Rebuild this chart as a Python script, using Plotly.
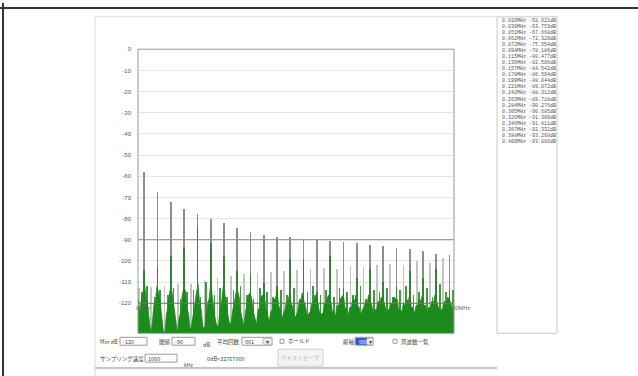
import plotly.graph_objects as go

# ---------------- data ----------------
list_freq = ["0.010", "0.030", "0.051", "0.062", "0.072", "0.094", "0.115", "0.136", "0.157", "0.178",
             "0.199", "0.221", "0.242", "0.263", "0.284", "0.305", "0.326", "0.346", "0.367", "0.388", "0.409"]
list_db = ["-58.621", "-63.753", "-67.668", "-72.329", "-75.554", "-78.186", "-80.477", "-82.506", "-84.542",
           "-86.504", "-88.044", "-89.072", "-88.312", "-89.718", "-90.276", "-90.685", "-91.300", "-91.811",
           "-92.332", "-93.260", "-93.886"]

peak_f = [0.010, 0.031, 0.052, 0.073, 0.094, 0.115, 0.136, 0.157, 0.178, 0.199, 0.220, 0.241,
          0.262, 0.283, 0.304, 0.325, 0.346, 0.367, 0.388, 0.409, 0.430, 0.451, 0.472, 0.493]
peak_hold = [-58.0, -67.6, -72.2, -75.4, -78.1, -80.2, -82.3, -84.4, -86.3, -88.0, -89.0, -88.6,
             -89.8, -90.2, -90.6, -91.3, -91.8, -92.4, -93.2, -93.8, -94.4, -95.6, -96.8, -97.5]
peak_now = [-104.2, -103.0, -98.0, -94.0, -83.6, -91.8, -98.0, -105.0, -106.5, -110.7, -112.0, -99.0,
            -99.0, -115.0, -97.6, -113.0, -108.0, -103.7, -110.0, -112.0, -105.0, -108.0, -104.0, -114.0]

spur_f = [0.002, 0.021, 0.042, 0.063, 0.084, 0.105, 0.126, 0.147, 0.168, 0.189, 0.210, 0.231,
          0.252, 0.273, 0.294, 0.315, 0.336, 0.357, 0.378, 0.399, 0.420, 0.441, 0.462, 0.483]
spur_db = [-113.0, -112.4, -112.0, -111.2, -111.0, -109.0, -108.0, -107.4, -106.5, -106.0, -105.5, -105.0,
           -104.5, -104.0, -103.5, -104.0, -102.5, -103.0, -102.0, -101.5, -102.0, -100.0, -101.0, -98.5]

spike_f = [0.006, 0.014, 0.026, 0.035, 0.047, 0.056, 0.067, 0.078, 0.088, 0.099, 0.108, 0.121, 0.130,
           0.141, 0.151, 0.162, 0.172, 0.183, 0.193, 0.204, 0.214, 0.226, 0.236, 0.247, 0.256, 0.268,
           0.277, 0.289, 0.298, 0.310, 0.319, 0.331, 0.340, 0.352, 0.361, 0.373, 0.382, 0.394, 0.403,
           0.415, 0.424, 0.436, 0.445, 0.457, 0.466, 0.478, 0.487, 0.498]
spike_db = [-115, -112, -117, -114, -116, -113, -118, -115, -114, -117, -110, -116, -113, -117, -114, -112,
            -116, -118, -113, -115, -117, -114, -116, -113, -118, -115, -112, -116, -114, -117, -113, -115,
            -116, -112, -118, -114, -115, -113, -117, -114, -112, -116, -115, -113, -117, -111, -115, -114]

noise_f = [0.0000, 0.0025, 0.0050, 0.0075, 0.0100, 0.0125, 0.0150, 0.0175, 0.0200, 0.0225, 0.0250, 0.0275,
           0.0300, 0.0325, 0.0350, 0.0375, 0.0400, 0.0425, 0.0450, 0.0475, 0.0500, 0.0525, 0.0550, 0.0575,
           0.0600, 0.0625, 0.0650, 0.0675, 0.0700, 0.0725, 0.0750, 0.0775, 0.0800, 0.0825, 0.0850, 0.0875,
           0.0900, 0.0925, 0.0950, 0.0975, 0.1000, 0.1025, 0.1050, 0.1075, 0.1100, 0.1125, 0.1150, 0.1175,
           0.1200, 0.1225, 0.1250, 0.1275, 0.1300, 0.1325, 0.1350, 0.1375, 0.1400, 0.1425, 0.1450, 0.1475,
           0.1500, 0.1525, 0.1550, 0.1575, 0.1600, 0.1625, 0.1650, 0.1675, 0.1700, 0.1725, 0.1750, 0.1775,
           0.1800, 0.1825, 0.1850, 0.1875, 0.1900, 0.1925, 0.1950, 0.1975, 0.2000, 0.2025, 0.2050, 0.2075,
           0.2100, 0.2125, 0.2150, 0.2175, 0.2200, 0.2225, 0.2250, 0.2275, 0.2300, 0.2325, 0.2350, 0.2375,
           0.2400, 0.2425, 0.2450, 0.2475, 0.2500, 0.2525, 0.2550, 0.2575, 0.2600, 0.2625, 0.2650, 0.2675,
           0.2700, 0.2725, 0.2750, 0.2775, 0.2800, 0.2825, 0.2850, 0.2875, 0.2900, 0.2925, 0.2950, 0.2975,
           0.3000, 0.3025, 0.3050, 0.3075, 0.3100, 0.3125, 0.3150, 0.3175, 0.3200, 0.3225, 0.3250, 0.3275,
           0.3300, 0.3325, 0.3350, 0.3375, 0.3400, 0.3425, 0.3450, 0.3475, 0.3500, 0.3525, 0.3550, 0.3575,
           0.3600, 0.3625, 0.3650, 0.3675, 0.3700, 0.3725, 0.3750, 0.3775, 0.3800, 0.3825, 0.3850, 0.3875,
           0.3900, 0.3925, 0.3950, 0.3975, 0.4000, 0.4025, 0.4050, 0.4075, 0.4100, 0.4125, 0.4150, 0.4175,
           0.4200, 0.4225, 0.4250, 0.4275, 0.4300, 0.4325, 0.4350, 0.4375, 0.4400, 0.4425, 0.4450, 0.4475,
           0.4500, 0.4525, 0.4550, 0.4575, 0.4600, 0.4625, 0.4650, 0.4675, 0.4700, 0.4725, 0.4750, 0.4775,
           0.4800, 0.4825, 0.4850, 0.4875, 0.4900, 0.4925, 0.4950, 0.4975, 0.5000]
noise_db = [-118, -125, -119, -116, -110, -117, -120, -128, -134, -130, -121, -119, -112, -115, -119, -126,
            -133, -134, -125, -122, -115, -112, -117, -124, -128, -134, -127, -124, -116, -113, -114, -122,
            -125, -133, -130, -125, -118, -115, -111, -120, -123, -131, -132, -128, -120, -118, -111, -117,
            -121, -128, -131, -130, -122, -119, -112, -116, -120, -126, -130, -129, -123, -120, -115, -114,
            -117, -124, -128, -131, -124, -121, -116, -115, -118, -124, -127, -130, -123, -122, -117, -116,
            -116, -123, -125, -129, -124, -123, -118, -118, -114, -121, -123, -128, -125, -123, -119, -119,
            -115, -120, -122, -127, -126, -124, -119, -119, -115, -119, -121, -126, -125, -124, -120, -120,
            -116, -117, -120, -125, -125, -125, -120, -120, -117, -116, -119, -124, -124, -126, -121, -121,
            -118, -117, -116, -122, -123, -126, -122, -122, -118, -119, -116, -121, -122, -126, -123, -122,
            -119, -120, -116, -119, -121, -125, -123, -123, -119, -120, -117, -118, -120, -124, -123, -123,
            -120, -120, -117, -118, -118, -123, -123, -124, -120, -121, -118, -119, -116, -122, -122, -125,
            -121, -121, -118, -119, -116, -121, -121, -125, -122, -122, -119, -120, -116, -119, -121, -124,
            -123, -122, -119, -120, -117, -118, -120, -124, -124]

y_ticks = [0, -10, -20, -30, -40, -50, -60, -70, -80, -90, -100, -110, -120]
y_min, y_max = -134.2, 0
threshold = -90
min_db = -120

# ---------------- figure ----------------
W, H = 638, 376
px = lambda v: v / W
py = lambda v: 1 - v / H

fig = go.Figure()
base = [y_min] * len(noise_f)
fig.add_trace(go.Scatter(x=noise_f, y=base, mode="lines", line=dict(width=0), hoverinfo="skip", showlegend=False))
fig.add_trace(go.Scatter(x=noise_f, y=noise_db, mode="lines", fill="tonexty", fillcolor="#1b8c1b",
                         line=dict(color="#1b8c1b", width=0.8), showlegend=False))
fig.add_trace(go.Bar(x=spur_f, y=[v - y_min for v in spur_db], base=y_min, width=0.0011,
                     marker=dict(color="#c4c4c4", line=dict(width=0)), showlegend=False))
fig.add_trace(go.Bar(x=spike_f, y=[v - y_min for v in spike_db], base=y_min, width=0.0011,
                     marker=dict(color="#3f9a3f", line=dict(width=0)), showlegend=False))
fig.add_trace(go.Bar(x=peak_f, y=[v - y_min for v in peak_hold], base=y_min, width=0.0012,
                     marker=dict(color="#8e8e8e", line=dict(width=0)), showlegend=False))
fig.add_trace(go.Bar(x=peak_f, y=[v - y_min for v in peak_now], base=y_min, width=0.0012,
                     marker=dict(color="#3a7d3a", line=dict(width=0)), showlegend=False))

fig.update_layout(
    width=W, height=H, margin=dict(l=0, r=0, t=0, b=0),
    paper_bgcolor="white", plot_bgcolor="white", barmode="overlay", bargap=0,
    xaxis=dict(domain=[px(138), px(454)], range=[0, 0.5], showgrid=False, showticklabels=False,
               zeroline=False, ticks=""),
    yaxis=dict(domain=[py(333), py(46.6)], range=[y_min, y_max], tickvals=y_ticks,
               ticktext=[str(v) for v in y_ticks], showgrid=True, gridcolor="#e6e6e6", gridwidth=1,
               zeroline=False, tickfont=dict(size=6, color="#555", family="Liberation Sans"), ticks="",
               ticklabelstandoff=6),
    font=dict(family="Noto Sans CJK JP", size=7, color="#444"),
)

shapes = []
shapes.append(dict(type="line", xref="x", yref="y", x0=0, x1=0.5, y0=threshold, y1=threshold,
                   line=dict(color="#b07a7a", width=1.2)))
shapes.append(dict(type="line", xref="x", yref="y", x0=0, x1=0.5, y0=min_db, y1=min_db,
                   line=dict(color="#707070", width=1)))
shapes.append(dict(type="rect", xref="paper", yref="paper", x0=px(138), x1=px(454), y0=py(333), y1=py(46.6),
                   line=dict(color="#999", width=1)))
# window chrome
shapes.append(dict(type="line", xref="paper", yref="paper", x0=0, x1=1, y0=py(5), y1=py(5),
                   line=dict(color="#333", width=2)))
shapes.append(dict(type="line", xref="paper", yref="paper", x0=px(3), x1=px(3), y0=0, y1=1,
                   line=dict(color="#333", width=2)))
shapes.append(dict(type="line", xref="paper", yref="paper", x0=px(95), x1=px(497), y0=py(14), y1=py(14),
                   line=dict(color="#d8d8d8", width=1)))
shapes.append(dict(type="line", xref="paper", yref="paper", x0=px(95), x1=px(95), y0=py(14), y1=py(376),
                   line=dict(color="#d8d8d8", width=1)))
shapes.append(dict(type="rect", xref="paper", yref="paper", x0=px(497), x1=px(557), y0=py(333), y1=py(14),
                   line=dict(color="#c8c8c8", width=1), fillcolor="white"))
shapes.append(dict(type="line", xref="paper", yref="paper", x0=px(95), x1=px(497), y0=py(368), y1=py(368),
                   line=dict(color="#a9b4c2", width=1.5)))

def box(x0, x1, y0, y1, fill="white", border="#9a9a9a"):
    shapes.append(dict(type="rect", xref="paper", yref="paper", x0=px(x0), x1=px(x1), y0=py(y1), y1=py(y0),
                       line=dict(color=border, width=1), fillcolor=fill))

box(120, 147, 337, 345)
box(172, 195, 337, 345)
box(242, 272, 337, 345)
box(263, 272, 338, 344, fill="#eeeeee", border="#bbb")
box(280, 284, 339, 343)
box(355, 373, 337, 345, fill="white")
box(356, 367, 338, 344, fill="#3355cc", border="#3355cc")
box(367, 373, 338, 344, fill="#eeeeee", border="#bbb")
box(393, 397, 339, 343)
box(145, 177, 354, 362)
box(278, 323, 349, 366, fill="#f4f4f4", border="#cfcfcf")
fig.update_layout(shapes=shapes)

ann = []
def text(x, y, s, size=6.5, color="#444", anchor="left", family="Noto Sans CJK JP"):
    ann.append(dict(xref="paper", yref="paper", x=px(x), y=py(y), text=s, showarrow=False,
                    xanchor=anchor, yanchor="middle", font=dict(size=size, color=color, family=family)))

for i, (f, d) in enumerate(zip(list_freq, list_db)):
    text(500, 18 + i * 6.1, f"{f}MHz {d}dB", size=5.0, color="#555", family="Liberation Mono")

text(134, 307.5, "0MHz", size=5.5, color="#666", family="Liberation Sans")
text(443, 307.5, "0.500MHz", size=5.5, color="#666", family="Liberation Sans")

text(98, 342, "Min dB", size=5.5)
text(121, 342, "-120", size=5.5)
text(157, 342, "閾値", size=5.5)
text(173, 342, "-90", size=5.5)
text(201, 345, "dB", size=5.5)
text(215, 342, "平均回数", size=5.5)
text(243, 342, "001", size=5.5)
text(267.5, 341.5, "▾", size=6, anchor="center")
text(286, 341, "ホールド", size=5.5)
text(341, 342, "縦軸", size=5.5)
text(357, 341.5, "000", size=5.5, color="white")
text(370, 341.5, "▾", size=6, anchor="center")
text(399, 342, "周波数一覧", size=5.5)
text(98, 359, "サンプリング速度", size=5.5)
text(146, 358.5, "1000", size=5.5)
text(182, 364, "kHz", size=5)
text(205, 359, "0dB=32767000", size=5.5)
text(300.5, 357.5, "テキストセーブ", size=5.5, color="#bbb", anchor="center")
fig.update_layout(annotations=ann)

fig.write_html("out.html", config={"displayModeBar": False},
               post_script="document.body.style.margin='0';document.body.style.overflow='hidden';")
